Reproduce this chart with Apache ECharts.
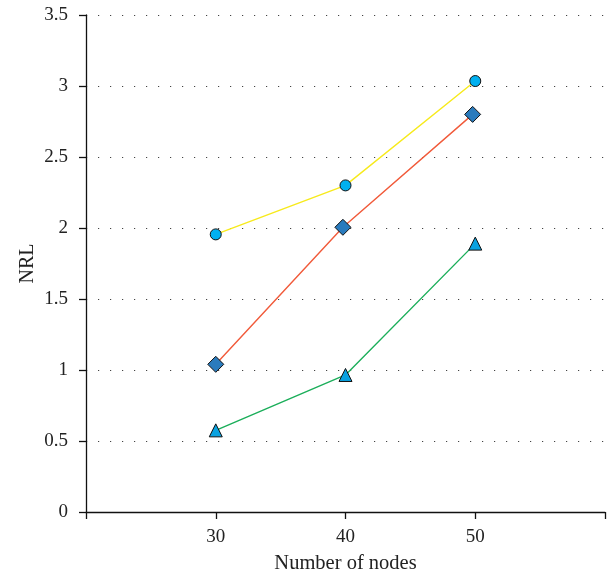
<!DOCTYPE html>
<html>
<head>
<meta charset="utf-8">
<script src="https://cdn.jsdelivr.net/npm/echarts@6/dist/echarts.min.js"></script>
<style>html,body{margin:0;padding:0;background:#fff}#c{width:612px;height:578px}</style>
</head>
<body>
<div id="c"></div>
<script>
// Data
const nodes = [30, 40, 50];
const redNodes = [30, 39.8, 49.8];
const yellowCircle = [1.955, 2.30, 3.035];
const redDiamond = [1.04, 2.005, 2.80];
const greenTriangle = [0.575, 0.965, 1.89];
const xTickLabels = ['30', '40', '50'];

const font = 'Liberation Serif';
const pairs = (xs, ys) => xs.map((x, i) => [x, ys[i]]);

const chart = echarts.init(document.getElementById('c'), null, {renderer: 'canvas'});
chart.setOption({
  animation: false,
  backgroundColor: '#fff',
  grid: {left: 86, right: 7, top: 15, bottom: 66, containLabel: false, outerBoundsMode: 'none'},
  xAxis: {
    type: 'value', min: 20, max: 60, interval: 10,
    name: 'Number of nodes', nameLocation: 'middle', nameGap: 41, nameMoveOverlap: false,
    nameTextStyle: {fontFamily: font, fontSize: 20.5, color: '#222'},
    axisLine: {show: true, lineStyle: {color: '#111', width: 1.3}},
    axisTick: {show: true, length: 7, lineStyle: {color: '#111', width: 1.3}},
    axisLabel: {
      margin: 16, fontFamily: font, fontSize: 19, color: '#222',
      formatter: v => xTickLabels.includes(String(v)) ? String(v) : ''
    },
    splitLine: {show: false}
  },
  yAxis: {
    type: 'value', min: 0, max: 3.5, interval: 0.5,
    name: 'NRL', nameLocation: 'middle', nameGap: 48, nameMoveOverlap: false,
    nameTextStyle: {fontFamily: font, fontSize: 20, color: '#222'},
    axisLine: {show: true, lineStyle: {color: '#111', width: 1.3}},
    axisTick: {show: true, length: 7, lineStyle: {color: '#111', width: 1.3}},
    axisLabel: {margin: 18, fontFamily: font, fontSize: 19, color: '#222'},
    splitLine: {show: true, lineStyle: {color: '#444', width: 1, type: [1.2, 10.8]}}
  },
  series: [
    {
      type: 'line', data: pairs(nodes, yellowCircle),
      symbol: 'circle', symbolSize: 11,
      lineStyle: {color: '#f7ea1c', width: 1.4},
      itemStyle: {color: '#00b0f0', borderColor: '#111', borderWidth: 1}
    },
    {
      type: 'line', data: pairs(redNodes, redDiamond),
      symbol: 'diamond', symbolSize: 16,
      lineStyle: {color: '#f15a3a', width: 1.4},
      itemStyle: {color: '#2a7bbd', borderColor: '#111', borderWidth: 1}
    },
    {
      type: 'line', data: pairs(nodes, greenTriangle),
      symbol: 'triangle', symbolSize: 13,
      lineStyle: {color: '#1bae5a', width: 1.4},
      itemStyle: {color: '#0aa2e0', borderColor: '#111', borderWidth: 1}
    }
  ]
});
</script>
</body>
</html>
